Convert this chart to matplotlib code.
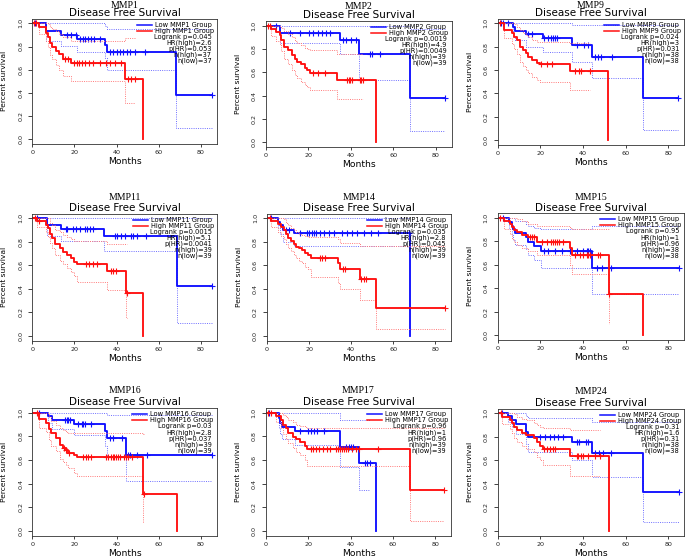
import matplotlib
matplotlib.use("Agg")
import matplotlib.pyplot as plt

# ---------------- data ----------------
GENES = ["MMP1", "MMP2", "MMP9", "MMP11", "MMP14", "MMP15", "MMP16", "MMP17", "MMP24"]
LOGRANK_P = ["0.045", "0.0019", "0.024", "0.0015", "0.035", "0.95", "0.03", "0.96", "0.31"]
HR_HIGH = ["2.6", "4.9", "3", "5.1", "2.8", "1", "2.8", "1", "1.6"]
P_HR = ["0.053", "0.0049", "0.031", "0.0041", "0.045", "0.96", "0.037", "0.96", "0.31"]
N_HIGH = [37, 39, 38, 39, 39, 38, 39, 39, 38]
N_LOW = [37, 39, 38, 39, 39, 38, 39, 39, 38]

# MMP1
MMP1_LOW_T = [6.3, 13.6, 21.3, 34.5, 35.6, 68.1]
MMP1_LOW_S = [0.934, 0.902, 0.862, 0.813, 0.756, 0.378]
MMP1_LOW_LO = [0.85, 0.807, 0.756, 0.70, 0.60, 0.095]
MMP1_LOW_HI = [1.0, 1.0, 1.0, 0.98, 0.95, 0.95]
MMP1_LOW_C = [1.5, 16.3, 18.2, 20.5, 22.6, 23.9, 25.1, 26.6, 27.8, 29.2, 32.0, 36.8, 38.4, 40.0,
              41.6, 43.2, 44.7, 46.3, 48.7, 53.4, 85.0]
MMP1_LOW_END = 85.0
MMP1_HIGH_T = [3.0, 6.3, 7.3, 8.2, 9.5, 11.2, 12.5, 14.5, 18.5, 44.1, 52.6]
MMP1_HIGH_S = [0.966, 0.92, 0.885, 0.83, 0.80, 0.765, 0.733, 0.695, 0.655, 0.52, 0.0]
MMP1_HIGH_LO = [0.91, 0.85, 0.80, 0.73, 0.69, 0.64, 0.60, 0.55, 0.50, 0.31, None]
MMP1_HIGH_HI = [1.0, 1.0, 0.99, 0.97, 0.95, 0.93, 0.91, 0.88, 0.85, 0.87, None]
MMP1_HIGH_C = [1.0, 1.8, 15.5, 17.0, 20.0, 21.0, 22.0, 23.5, 25.0, 27.0, 29.0, 32.0, 35.0, 37.0,
               39.0, 42.0, 45.5, 47.0, 48.5]
MMP1_HIGH_END = 52.6

# MMP2
MMP2_LOW_T = [6.9, 35.1, 43.9, 68.1]
MMP2_LOW_S = [0.937, 0.88, 0.757, 0.377]
MMP2_LOW_LO = [0.85, 0.757, 0.537, 0.094]
MMP2_LOW_HI = [1.0, 1.0, 1.0, 0.97]
MMP2_LOW_C = [5.0, 11.3, 16.0, 20.2, 22.4, 24.6, 26.7, 28.2, 30.1, 36.4, 38.0, 40.3, 42.7, 48.9,
              50.0, 53.6, 84.5]
MMP2_LOW_END = 84.5
MMP2_HIGH_T = [2.7, 5.0, 6.6, 7.4, 8.5, 10.5, 12.5, 13.6, 14.7, 16.8, 18.7, 19.6, 21.0, 33.6, 51.8]
MMP2_HIGH_S = [0.971, 0.946, 0.92, 0.88, 0.82, 0.79, 0.75, 0.71, 0.69, 0.666, 0.637, 0.617, 0.594,
               0.537, 0.0]
MMP2_HIGH_LO = [0.91, 0.87, 0.83, 0.78, 0.71, 0.67, 0.62, 0.58, 0.55, 0.52, 0.49, 0.47, 0.45, 0.374,
                None]
MMP2_HIGH_HI = [1.0, 1.0, 1.0, 0.98, 0.95, 0.93, 0.90, 0.87, 0.85, 0.83, 0.81, 0.80, 0.79, 0.757,
                None]
MMP2_HIGH_C = [1.0, 2.0, 22.3, 24.5, 27.8, 38.3, 39.0, 39.8, 40.5, 44.2, 45.0, 45.8]
MMP2_HIGH_END = 51.8

# MMP9
MMP9_LOW_T = [7.3, 8.1, 13.1, 21.1, 35.0, 44.0, 68.3]
MMP9_LOW_S = [0.967, 0.934, 0.906, 0.871, 0.814, 0.714, 0.357]
MMP9_LOW_LO = [0.88, 0.857, 0.80, 0.757, 0.666, 0.534, 0.086]
MMP9_LOW_HI = [1.0, 1.0, 1.0, 1.0, 0.986, 0.986, 0.986]
MMP9_LOW_C = [1.5, 2.5, 5.0, 14.0, 16.3, 21.9, 23.8, 25.0, 26.0, 26.9, 27.7, 37.0, 40.6, 42.2,
              45.6, 46.9, 48.4, 53.4, 84.7]
MMP9_LOW_END = 84.7
MMP9_HIGH_T = [3.1, 6.6, 7.8, 9.2, 10.5, 12.0, 13.3, 14.4, 16.3, 18.3, 20.0, 33.9, 51.9]
MMP9_HIGH_S = [0.943, 0.914, 0.886, 0.857, 0.80, 0.771, 0.743, 0.714, 0.686, 0.657, 0.649, 0.591, 0.0]
MMP9_HIGH_LO = [0.87, 0.82, 0.78, 0.74, 0.67, 0.63, 0.60, 0.57, 0.54, 0.51, 0.50, 0.43, None]
MMP9_HIGH_HI = [1.0, 1.0, 0.99, 0.97, 0.94, 0.92, 0.90, 0.88, 0.86, 0.84, 0.837, 0.83, None]
MMP9_HIGH_C = [1.0, 20.3, 23.0, 25.3, 36.3, 38.1, 39.0, 43.3]
MMP9_HIGH_END = 51.9

# MMP11
MMP11_LOW_T = [6.8, 13.6, 34.2, 68.5]
MMP11_LOW_S = [0.943, 0.906, 0.85, 0.428]
MMP11_LOW_LO = [0.85, 0.81, 0.72, 0.113]
MMP11_LOW_HI = [1.0, 1.0, 1.0, 1.0]
MMP11_LOW_C = [2.0, 15.8, 16.3, 19.4, 20.7, 22.6, 25.0, 26.0, 27.4, 28.6, 39.2, 40.3, 41.9, 44.0,
               46.6, 47.9, 49.5, 54.0, 85.4]
MMP11_LOW_END = 85.4
MMP11_HIGH_T = [2.4, 6.3, 7.3, 8.4, 9.5, 11.0, 13.1, 14.4, 16.3, 18.3, 19.8, 21.3, 35.6, 44.4, 52.6]
MMP11_HIGH_S = [0.974, 0.947, 0.92, 0.866, 0.835, 0.78, 0.745, 0.717, 0.69, 0.66, 0.632, 0.609,
                0.552, 0.368, 0.0]
MMP11_HIGH_LO = [0.93, 0.88, 0.84, 0.79, 0.75, 0.69, 0.64, 0.61, 0.58, 0.54, 0.51, 0.46, 0.39, 0.156,
                 None]
MMP11_HIGH_HI = [1.0, 1.0, 1.0, 0.96, 0.94, 0.90, 0.88, 0.86, 0.84, 0.82, 0.81, 0.81, 0.78, 0.78,
                 None]
MMP11_HIGH_C = [1.5, 3.0, 25.5, 27.0, 28.6, 30.5, 37.3, 38.4, 39.7, 44.7]
MMP11_HIGH_END = 52.6

# MMP14
MMP14_LOW_T = [5.2, 6.3, 7.6, 12.7, 67.8]
MMP14_LOW_S = [0.972, 0.943, 0.90, 0.873, 0.0]
MMP14_LOW_LO = [0.92, 0.87, 0.80, 0.765, None]
MMP14_LOW_HI = [1.0, 1.0, 1.0, 1.0, None]
MMP14_LOW_C = [2.0, 9.0, 10.5, 15.8, 18.8, 20.0, 21.3, 22.5, 23.5, 25.0, 27.0, 29.5, 32.0, 35.5,
               38.0, 40.5, 43.0, 46.0, 49.5, 53.0, 67.5]
MMP14_LOW_END = 67.8
MMP14_HIGH_T = [2.0, 5.2, 6.8, 7.9, 8.9, 10.0, 11.6, 12.7, 13.9, 15.2, 16.6, 18.2, 19.5, 20.8, 33.8,
                34.9, 44.1, 52.0]
MMP14_HIGH_S = [0.974, 0.95, 0.925, 0.90, 0.864, 0.836, 0.81, 0.785, 0.76, 0.745, 0.73, 0.705, 0.69,
                0.666, 0.617, 0.567, 0.484, 0.241]
MMP14_HIGH_LO = [0.93, 0.88, 0.85, 0.82, 0.78, 0.75, 0.72, 0.69, 0.66, 0.64, 0.62, 0.59, 0.57, 0.50,
                 0.45, 0.40, 0.31, 0.06]
MMP14_HIGH_HI = [1.0, 1.0, 1.0, 0.99, 0.96, 0.94, 0.92, 0.90, 0.88, 0.87, 0.86, 0.85, 0.84, 0.84,
                 0.82, 0.79, 0.765, 0.765]
MMP14_HIGH_C = [1.5, 25.0, 26.1, 27.4, 36.1, 37.2, 44.8, 46.1, 47.2, 84.5]
MMP14_HIGH_END = 84.5

# MMP15
MMP15_LOW_T = [5.5, 6.6, 7.3, 8.1, 13.3, 14.1, 17.0, 20.2, 44.1]
MMP15_LOW_S = [0.966, 0.933, 0.90, 0.866, 0.835, 0.79, 0.758, 0.716, 0.574]
MMP15_LOW_LO = [0.90, 0.85, 0.81, 0.77, 0.73, 0.68, 0.64, 0.57, 0.35]
MMP15_LOW_HI = [1.0, 1.0, 1.0, 0.97, 0.95, 0.93, 0.91, 0.90, 0.93]
MMP15_LOW_C = [2.5, 21.9, 23.8, 26.9, 30.0, 33.9, 37.0, 40.2, 41.7, 42.5, 43.3, 46.4, 48.8, 53.1, 85.0]
MMP15_LOW_END = 85.0
MMP15_HIGH_T = [3.1, 5.8, 6.9, 7.8, 9.2, 11.3, 14.1, 18.3, 33.9, 35.0, 52.2, 68.3]
MMP15_HIGH_S = [0.972, 0.945, 0.918, 0.895, 0.88, 0.852, 0.832, 0.795, 0.744, 0.682, 0.347, 0.0]
MMP15_HIGH_LO = [0.90, 0.86, 0.82, 0.79, 0.77, 0.74, 0.72, 0.68, 0.60, 0.52, 0.09, None]
MMP15_HIGH_HI = [1.0, 1.0, 1.0, 1.0, 0.99, 0.97, 0.95, 0.93, 0.91, 0.90, 0.90, None]
MMP15_HIGH_C = [1.0, 15.0, 16.0, 17.0, 21.0, 23.0, 25.0, 26.0, 26.9, 27.7, 28.8, 30.5, 36.3, 38.6,
                40.2, 41.7, 42.5, 43.3, 47.0, 48.0, 52.4]
MMP15_HIGH_END = 68.3

# MMP16
MMP16_LOW_T = [7.3, 9.5, 19.8, 34.6, 35.6, 44.4]
MMP16_LOW_S = [0.972, 0.938, 0.904, 0.848, 0.789, 0.642]
MMP16_LOW_LO = [0.91, 0.86, 0.81, 0.72, 0.63, 0.42]
MMP16_LOW_HI = [1.0, 1.0, 1.0, 1.0, 0.98, 0.98]
MMP16_LOW_C = [3.0, 15.5, 16.3, 17.0, 17.7, 21.8, 23.4, 24.2, 25.0, 28.0, 36.8, 38.1, 42.4, 45.5,
               46.5, 49.5, 54.2, 85.4]
MMP16_LOW_END = 85.4
MMP16_HIGH_T = [3.3, 6.3, 7.9, 8.9, 11.2, 13.1, 14.4, 16.0, 17.1, 19.8, 21.0, 52.6, 68.8]
MMP16_HIGH_S = [0.944, 0.916, 0.86, 0.825, 0.783, 0.727, 0.70, 0.684, 0.662, 0.64, 0.622, 0.31, 0.0]
MMP16_HIGH_LO = [0.87, 0.84, 0.77, 0.72, 0.68, 0.61, 0.58, 0.56, 0.53, 0.49, 0.465, 0.08, None]
MMP16_HIGH_HI = [1.0, 1.0, 0.96, 0.93, 0.90, 0.87, 0.85, 0.84, 0.83, 0.83, 0.825, 0.82, None]
MMP16_HIGH_C = [2.0, 15.0, 16.0, 17.5, 24.2, 25.5, 26.6, 28.0, 34.9, 35.9, 37.3, 38.1, 38.9, 39.7,
                40.5, 41.8, 43.3, 44.4, 45.5, 47.1, 52.8]
MMP16_HIGH_END = 68.8

# MMP17
MMP17_LOW_T = [6.1, 6.9, 7.7, 13.7, 34.9, 44.0, 51.9]
MMP17_LOW_S = [0.952, 0.915, 0.876, 0.842, 0.713, 0.572, 0.0]
MMP17_LOW_LO = [0.87, 0.82, 0.78, 0.727, 0.54, 0.346, None]
MMP17_LOW_HI = [1.0, 1.0, 1.0, 1.0, 0.938, 0.938, None]
MMP17_LOW_C = [1.5, 16.0, 20.0, 21.5, 22.8, 24.4, 27.5, 38.0, 39.2, 40.4, 41.2, 47.0, 48.0, 49.3]
MMP17_LOW_END = 51.9
MMP17_HIGH_T = [5.0, 7.0, 8.2, 9.7, 10.5, 12.9, 14.5, 16.0, 18.4, 19.6, 68.0]
MMP17_HIGH_S = [0.972, 0.94, 0.896, 0.868, 0.83, 0.797, 0.775, 0.755, 0.72, 0.693, 0.346]
MMP17_HIGH_LO = [0.92, 0.87, 0.82, 0.78, 0.74, 0.70, 0.67, 0.64, 0.60, 0.55, 0.087]
MMP17_HIGH_HI = [1.0, 1.0, 0.98, 0.96, 0.94, 0.92, 0.90, 0.89, 0.88, 0.87, 0.87]
MMP17_HIGH_C = [1.0, 2.5, 21.5, 22.5, 23.5, 25.0, 27.0, 29.0, 30.5, 33.0, 34.0, 35.0, 36.0, 37.0,
                38.0, 39.0, 40.5, 42.5, 44.0, 53.0, 84.1]
MMP17_HIGH_END = 84.1

# MMP24
MMP24_LOW_T = [5.0, 6.9, 8.6, 13.1, 14.4, 35.0, 44.1, 68.3]
MMP24_LOW_S = [0.974, 0.947, 0.908, 0.843, 0.80, 0.754, 0.66, 0.33]
MMP24_LOW_LO = [0.93, 0.88, 0.82, 0.74, 0.67, 0.60, 0.46, 0.08]
MMP24_LOW_HI = [1.0, 1.0, 1.0, 0.98, 0.957, 0.957, 0.93, 0.93]
MMP24_LOW_C = [2.0, 20.0, 22.0, 24.5, 26.5, 28.5, 30.5, 37.0, 38.0, 41.5, 42.5, 45.5, 47.5, 49.5,
               53.0, 85.0]
MMP24_LOW_END = 85.0
MMP24_HIGH_T = [2.0, 5.8, 6.6, 7.8, 8.9, 11.3, 13.3, 17.0, 18.3, 19.8, 21.1, 33.9, 52.2]
MMP24_HIGH_S = [0.97, 0.943, 0.915, 0.887, 0.858, 0.83, 0.816, 0.788, 0.76, 0.722, 0.70, 0.637, 0.0]
MMP24_HIGH_LO = [0.91, 0.87, 0.83, 0.79, 0.76, 0.72, 0.70, 0.67, 0.63, 0.60, 0.56, 0.467, None]
MMP24_HIGH_HI = [1.0, 1.0, 1.0, 0.99, 0.97, 0.95, 0.94, 0.92, 0.90, 0.88, 0.872, 0.86, None]
MMP24_HIGH_C = [1.5, 21.9, 23.0, 24.5, 26.0, 26.9, 37.0, 37.8, 39.0, 40.2, 42.5, 45.6, 48.0]
MMP24_HIGH_END = 52.2

LOW = [
    (MMP1_LOW_T, MMP1_LOW_S, MMP1_LOW_LO, MMP1_LOW_HI, MMP1_LOW_C, MMP1_LOW_END),
    (MMP2_LOW_T, MMP2_LOW_S, MMP2_LOW_LO, MMP2_LOW_HI, MMP2_LOW_C, MMP2_LOW_END),
    (MMP9_LOW_T, MMP9_LOW_S, MMP9_LOW_LO, MMP9_LOW_HI, MMP9_LOW_C, MMP9_LOW_END),
    (MMP11_LOW_T, MMP11_LOW_S, MMP11_LOW_LO, MMP11_LOW_HI, MMP11_LOW_C, MMP11_LOW_END),
    (MMP14_LOW_T, MMP14_LOW_S, MMP14_LOW_LO, MMP14_LOW_HI, MMP14_LOW_C, MMP14_LOW_END),
    (MMP15_LOW_T, MMP15_LOW_S, MMP15_LOW_LO, MMP15_LOW_HI, MMP15_LOW_C, MMP15_LOW_END),
    (MMP16_LOW_T, MMP16_LOW_S, MMP16_LOW_LO, MMP16_LOW_HI, MMP16_LOW_C, MMP16_LOW_END),
    (MMP17_LOW_T, MMP17_LOW_S, MMP17_LOW_LO, MMP17_LOW_HI, MMP17_LOW_C, MMP17_LOW_END),
    (MMP24_LOW_T, MMP24_LOW_S, MMP24_LOW_LO, MMP24_LOW_HI, MMP24_LOW_C, MMP24_LOW_END),
]
HIGH = [
    (MMP1_HIGH_T, MMP1_HIGH_S, MMP1_HIGH_LO, MMP1_HIGH_HI, MMP1_HIGH_C, MMP1_HIGH_END),
    (MMP2_HIGH_T, MMP2_HIGH_S, MMP2_HIGH_LO, MMP2_HIGH_HI, MMP2_HIGH_C, MMP2_HIGH_END),
    (MMP9_HIGH_T, MMP9_HIGH_S, MMP9_HIGH_LO, MMP9_HIGH_HI, MMP9_HIGH_C, MMP9_HIGH_END),
    (MMP11_HIGH_T, MMP11_HIGH_S, MMP11_HIGH_LO, MMP11_HIGH_HI, MMP11_HIGH_C, MMP11_HIGH_END),
    (MMP14_HIGH_T, MMP14_HIGH_S, MMP14_HIGH_LO, MMP14_HIGH_HI, MMP14_HIGH_C, MMP14_HIGH_END),
    (MMP15_HIGH_T, MMP15_HIGH_S, MMP15_HIGH_LO, MMP15_HIGH_HI, MMP15_HIGH_C, MMP15_HIGH_END),
    (MMP16_HIGH_T, MMP16_HIGH_S, MMP16_HIGH_LO, MMP16_HIGH_HI, MMP16_HIGH_C, MMP16_HIGH_END),
    (MMP17_HIGH_T, MMP17_HIGH_S, MMP17_HIGH_LO, MMP17_HIGH_HI, MMP17_HIGH_C, MMP17_HIGH_END),
    (MMP24_HIGH_T, MMP24_HIGH_S, MMP24_HIGH_LO, MMP24_HIGH_HI, MMP24_HIGH_C, MMP24_HIGH_END),
]

X_TICKS = [0, 20, 40, 60, 80]
Y_TICKS = [0.0, 0.2, 0.4, 0.6, 0.8, 1.0]

# ---------------- layout (pixel anchors: x of 0, x of 80, y of 1.0, y of 0.0) ----------------
W, H = 685, 558
BOXES = [(32.3, 201.0, 23.3, 139.3), (265.7, 435.7, 25.5, 142.2), (497.7, 668.3, 23.3, 140.0),
         (32.3, 201.0, 218.3, 336.0), (267.0, 435.3, 218.3, 336.0), (497.7, 668.3, 217.7, 335.0),
         (32.3, 201.0, 412.7, 531.0), (265.7, 435.3, 412.7, 531.0), (497.7, 668.3, 413.3, 531.0)]
GENE_TITLE_OFFSET = [13.5, 14.0, 13.5, 15.6, 15.6, 15.6, 17.0, 17.0, 17.0]
XMAX = 87.5
YPAD = 0.04

BLUE, RED = "#1010ff", "#ff1010"
BLUE_CI, RED_CI = "#6f6fff", "#ff7a7a"


def pt(p):
    return p * 72.0 / 100.0


def step_xy(T, S, end):
    return [0.0] + list(T) + [end], [1.0] + list(S) + [S[-1]]


def ci_xy(T, V, S, C, end):
    k = sum(v is not None for v in V)
    if S[-1] == 0:
        ci_end = max(c for c in C if c < T[-1])
    else:
        ci_end = end
    return [0.0] + list(T[:k]) + [ci_end], [1.0] + list(V[:k]) + [V[k - 1]]


def surv_at(T, S, c):
    s = 1.0
    for t, v in zip(T, S):
        if t <= c:
            s = v
    return s


def draw_group(ax, grp, col, cicol):
    T, S, LO, HI, C, end = grp
    for V in (LO, HI):
        x, y = ci_xy(T, V, S, C, end)
        ax.step(x, y, where="post", color=cicol, lw=0.7, ls=(0, (1.0, 1.3)))
    x, y = step_xy(T, S, end)
    ax.step(x, y, where="post", color=col, lw=1.35)
    ax.plot(C, [surv_at(T, S, c) for c in C], ls="none", marker="+", ms=4.4, mew=0.8, color=col)


fig = plt.figure(figsize=(W / 100, H / 100), dpi=100)
renderer = fig.canvas.get_renderer()

for i, gene in enumerate(GENES):
    x0, x80, y1, y0 = BOXES[i]
    ppm = (x80 - x0) / 80.0
    ppu = y0 - y1
    left, right = x0, x0 + XMAX * ppm
    top, bottom = y1 - YPAD * ppu, y0 + YPAD * ppu
    ax = fig.add_axes([left / W, 1 - bottom / H, (right - left) / W, (bottom - top) / H])
    ax.set_xlim(0, XMAX)
    ax.set_ylim(-YPAD, 1 + YPAD)

    draw_group(ax, LOW[i], BLUE, BLUE_CI)
    draw_group(ax, HIGH[i], RED, RED_CI)

    for sp in ax.spines.values():
        sp.set_linewidth(0.6)
        sp.set_color("#333333")
    ax.set_xticks(X_TICKS)
    ax.set_xticklabels([str(v) for v in X_TICKS])
    ax.set_yticks(Y_TICKS)
    ax.set_yticklabels(["%.1f" % v for v in Y_TICKS], rotation=90, va="center")
    ax.tick_params(axis="x", length=pt(2.5), width=0.6, pad=pt(4), labelsize=4.6, colors="#222222")
    ax.tick_params(axis="y", length=pt(4), width=0.6, pad=pt(5), labelsize=4.6, colors="#222222")

    ax.annotate(gene, (0.5, 1), xycoords="axes fraction", xytext=(0, pt(GENE_TITLE_OFFSET[i])),
                textcoords="offset points", ha="center", va="center", fontsize=7,
                family="Liberation Serif")
    ax.annotate("Disease Free Survival", (0.5, 1), xycoords="axes fraction", xytext=(0, pt(5.5)),
                textcoords="offset points", ha="center", va="center", fontsize=7.5)
    ax.annotate("Months", (0.5, 0), xycoords="axes fraction", xytext=(0, -pt(18)),
                textcoords="offset points", ha="center", va="center", fontsize=6.6)
    ax.annotate("Percent survival", (0, 0.5), xycoords="axes fraction", xytext=(-pt(28), 0),
                textcoords="offset points", ha="center", va="center", fontsize=5.4, rotation=90)

    # legend + statistics
    fs = 4.8
    first, step = 6.4, 6.0
    th = ax.annotate("High %s Group" % gene, (1, 1), xycoords="axes fraction",
                     xytext=(-pt(3), -pt(first + step)), textcoords="offset points",
                     ha="right", va="center", fontsize=fs)
    bb = th.get_window_extent(renderer=renderer)
    axbb = ax.get_window_extent(renderer=renderer)
    dx = bb.x0 - axbb.x1  # pixels (negative)
    th.set_position((dx * 72 / 100, -pt(first + step)))
    th.set_ha("left")
    ax.annotate("Low %s Group" % gene, (1, 1), xycoords="axes fraction",
                xytext=(dx * 72 / 100, -pt(first)), textcoords="offset points",
                ha="left", va="center", fontsize=fs)
    for j, col in enumerate((BLUE, RED)):
        ypix = axbb.y1 - (first + j * step)
        xa0 = (axbb.x1 + dx - 3 - 15 - axbb.x0) / axbb.width
        xa1 = (axbb.x1 + dx - 3 - axbb.x0) / axbb.width
        ya = (ypix - axbb.y0) / axbb.height
        ax.plot([xa0, xa1], [ya, ya], transform=ax.transAxes, color=col, lw=1.1, clip_on=False)
    stats = ["Logrank p=%s" % LOGRANK_P[i], "HR(high)=%s" % HR_HIGH[i], "p(HR)=%s" % P_HR[i],
             "n(high)=%d" % N_HIGH[i], "n(low)=%d" % N_LOW[i]]
    for j, s in enumerate(stats):
        ax.annotate(s, (1, 1), xycoords="axes fraction",
                    xytext=(-pt(5), -pt(first + (j + 2) * step)), textcoords="offset points",
                    ha="right", va="center", fontsize=fs)

fig.savefig("out.png", dpi=100)
